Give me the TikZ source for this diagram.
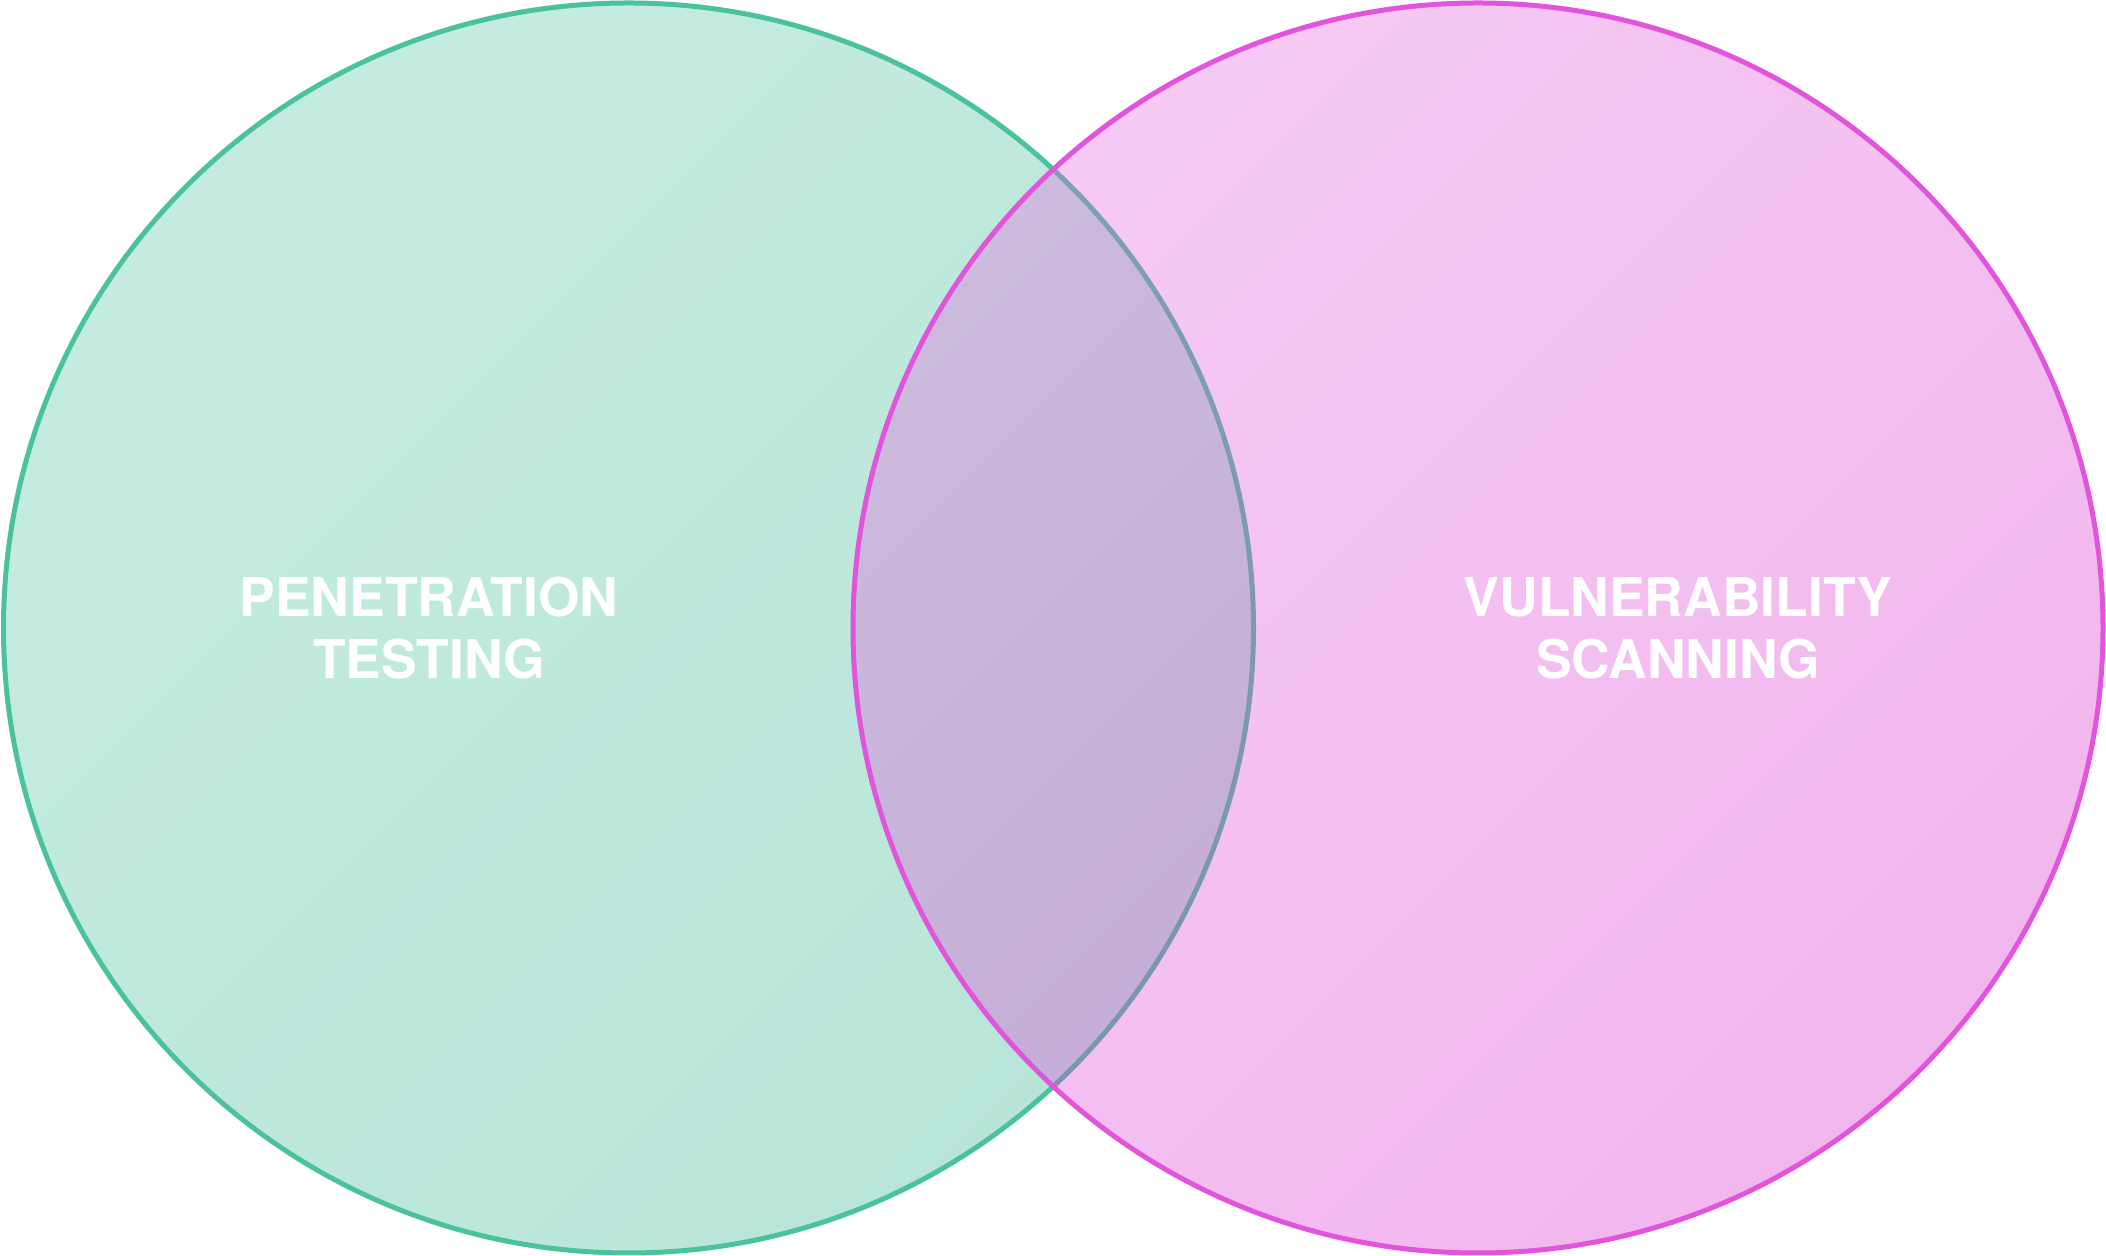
\documentclass[tikz,border=0pt]{standalone}
\usepackage{fontspec}
\setmainfont{TeX Gyre Heros}
\definecolor{pengreen}{RGB}{75,194,158}
\definecolor{pengreenlight}{RGB}{80,196,163}
\definecolor{pengreendark}{RGB}{45,178,142}
\definecolor{vulnpink}{RGB}{225,84,219}
\definecolor{vulnpinklight}{RGB}{228,96,222}
\definecolor{vulnpinkdark}{RGB}{214,36,202}
\begin{document}
\begin{tikzpicture}

\def\LEFTCOLOR{pengreen}
\def\RIGHTCOLOR{vulnpink}
\tikzset{circletext/.style={text=white, font=\fontsize{15.2}{17.6}\selectfont\bfseries, align=center}}
	\useasboundingbox (0,0) rectangle (21.06,12.56);
	\shade[top color=pengreenlight, bottom color=pengreendark, shading angle=45, fill opacity=0.333] (6.285,6.28) circle (6.25);
	\draw[\LEFTCOLOR, line width=0.05cm] (6.285,6.28) circle (6.25);
	\shade[top color=vulnpinklight, bottom color=vulnpinkdark, shading angle=45, fill opacity=0.333] (14.78,6.28) circle (6.25);
	\draw[\RIGHTCOLOR, line width=0.05cm] (14.78,6.28) circle (6.25);
	\node[circletext] (pentest) at (4.29,6.28) {PENETRATION\\TESTING};
	\node[circletext] (vulnscan) at (16.78,6.28) {VULNERABILITY\\SCANNING};

\end{tikzpicture}
\end{document}
